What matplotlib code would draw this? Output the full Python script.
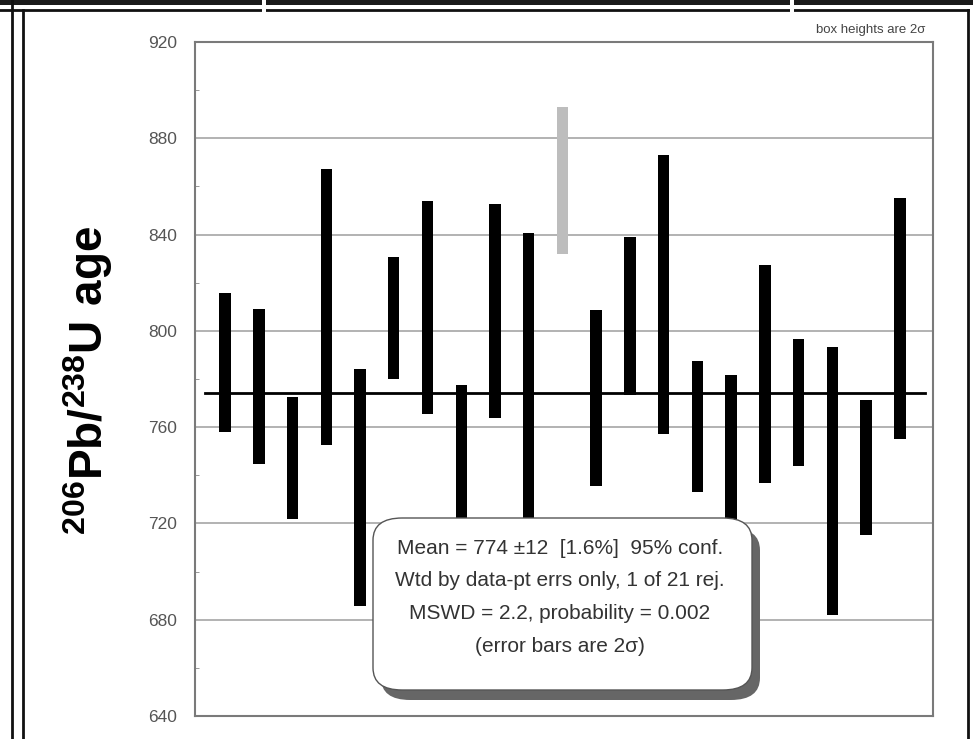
import matplotlib
matplotlib.use('Agg')
import matplotlib.pyplot as plt
from matplotlib.patches import FancyBboxPatch, Rectangle
from matplotlib.lines import Line2D

plt.rcParams['font.family'] = ['Liberation Sans', 'DejaVu Sans']
plt.rcParams['mathtext.fontset'] = 'custom'
plt.rcParams['mathtext.rm'] = 'Liberation Sans'
plt.rcParams['mathtext.bf'] = 'Liberation Sans:bold'

# 2-sigma age boxes (Ma), analysis order 1..21
box_top = [815.7, 809.2, 772.4, 867.1, 784.2, 830.7, 853.9, 777.5, 852.9, 840.6, 892.8,
           808.7, 839.1, 873.2, 787.6, 781.8, 827.2, 796.7, 793.5, 771.3, 855.3]
box_bot = [757.8, 744.6, 722.0, 752.6, 685.6, 780.0, 765.4, 716.0, 763.8, 717.0, 831.9,
           735.5, 773.2, 757.2, 733.2, 718.0, 737.0, 743.9, 682.1, 715.4, 755.0]
rejected = [11]
mean_age = 774
y_ticks = [640, 680, 720, 760, 800, 840, 880, 920]
box_lines = ['Mean = 774 \u00b112  [1.6%]  95% conf.',
             'Wtd by data-pt errs only, 1 of 21 rej.',
             'MSWD = 2.2, probability = 0.002',
             '(error bars are 2\u03c3)']

fig = plt.figure(figsize=(9.73, 7.39), dpi=100)
ax = fig.add_axes([195/973, 1-716/739, (933-195)/973, (716-42)/739])

x = list(range(1, len(box_top) + 1))
colors = ['#bdbdbd' if i in rejected else 'black' for i in x]
heights = [t - b for t, b in zip(box_top, box_bot)]
ax.bar(x, heights, bottom=box_bot, width=0.34, color=colors, zorder=3)

ax.plot([0.4, 21.75], [mean_age, mean_age], color='black', lw=2, zorder=4)

ax.set_xlim(0.11, 21.98)
ax.set_ylim(640, 920)
ax.set_yticks(y_ticks)
ax.set_yticks(range(660, 920, 40), minor=True)
ax.set_xticks([])
ax.grid(axis='y', color='#a5a5a5', lw=1.2, zorder=0)
for s in ax.spines.values():
    s.set_color('#7a7a7a')
    s.set_linewidth(1.5)
ax.tick_params(axis='y', which='major', length=0, pad=13, labelsize=12.5, labelcolor='#555555')
ax.tick_params(axis='y', which='minor', length=3, direction='in', color='#888888')

fig.text(88/973, 1-380/739, r'$\mathbf{^{206}Pb/^{238}U\ age}$', rotation=90,
         ha='center', va='center', fontsize=33)
fig.text(925/973, 1-30/739, 'box heights are 2\u03c3', ha='right', va='center',
         fontsize=9.5, color='#444444')

# annotation box with drop shadow
bx0, bx1, by0, by1 = 373/973, 752/973, 1-690/739, 1-518/739
shadow = FancyBboxPatch((bx0 + 8/973, by0 - 10/739), bx1 - bx0, by1 - by0,
                        boxstyle='round,pad=0,rounding_size=0.03', transform=fig.transFigure,
                        facecolor='#666666', edgecolor='none', zorder=5)
box = FancyBboxPatch((bx0, by0), bx1 - bx0, by1 - by0,
                     boxstyle='round,pad=0,rounding_size=0.03', transform=fig.transFigure,
                     facecolor='white', edgecolor='#555555', lw=1, zorder=6)
fig.patches.extend([shadow, box])
for i, line in enumerate(box_lines):
    fig.text(560/973, 1-(548 + 32.7*i)/739, line, ha='center', va='center',
             fontsize=15, color='#333333', zorder=7)

# panel frame remnants
fig.patches.append(Rectangle((0, 1-5/739), 1, 5/739, transform=fig.transFigure,
                             facecolor='#1a1a1a', edgecolor='none'))
for gx in [262, 790]:
    fig.patches.append(Rectangle((gx/973, 1-12/739), 4/973, 12/739, transform=fig.transFigure,
                                 facecolor='white', edgecolor='none', zorder=2))
fig.lines.extend([
    Line2D([12/973, 12/973], [0, 1], transform=fig.transFigure, color='#111111', lw=2),
    Line2D([23/973, 23/973], [0, 1-10/739], transform=fig.transFigure, color='#111111', lw=2),
    Line2D([0, 968/973], [1-10/739, 1-10/739], transform=fig.transFigure, color='#111111', lw=2),
    Line2D([968/973, 968/973], [0, 1-10/739], transform=fig.transFigure, color='#111111', lw=2),
])

fig.savefig('out.png', dpi=100)
